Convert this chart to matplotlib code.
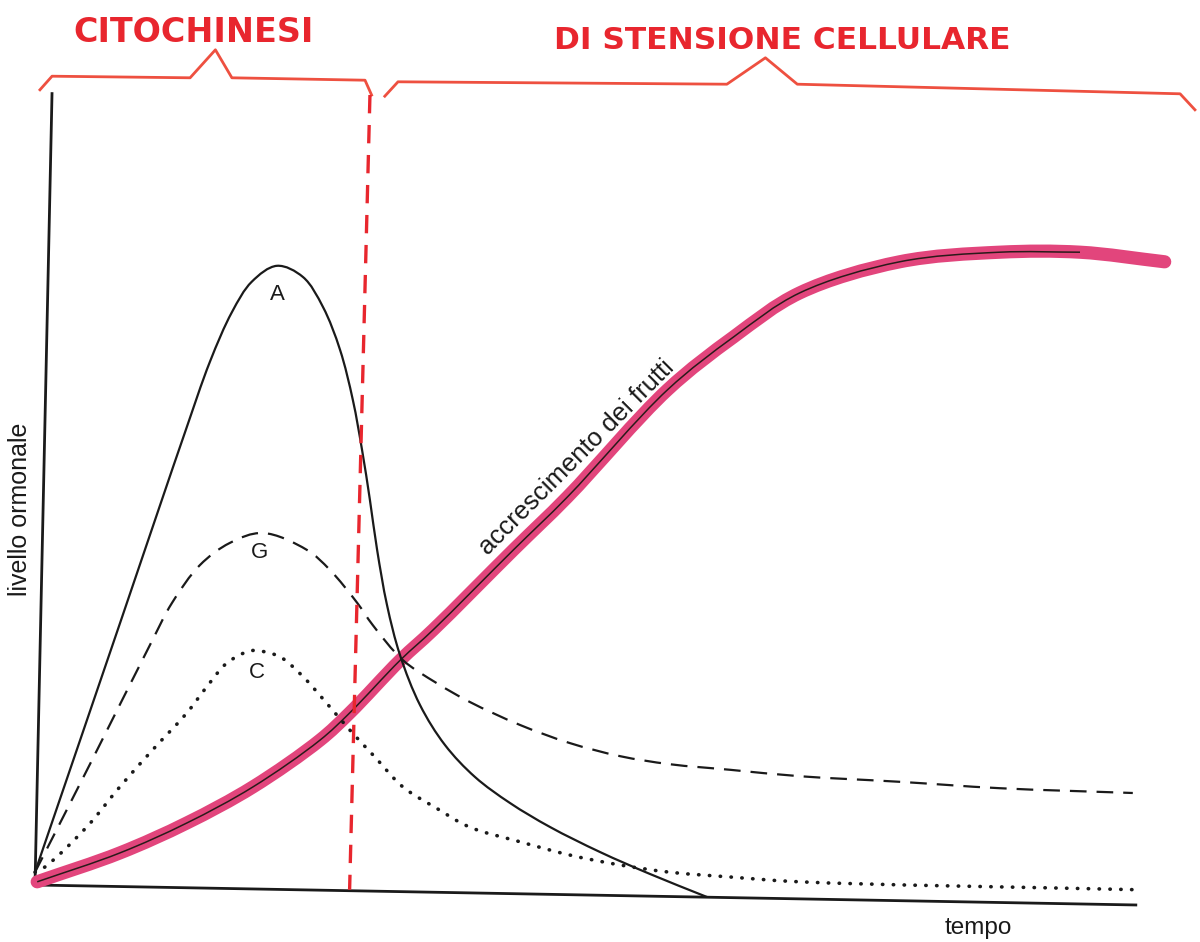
import matplotlib
matplotlib.use("Agg")
import matplotlib.pyplot as plt
import numpy as np
from matplotlib.path import Path
from matplotlib.patches import PathPatch

# ---- data (time 0..100, hormone level 0..100) ----
a_t = [0, 7.82, 11.4, 13.64, 15.9, 17.9, 19.7, 22.0, 24.36, 26.18, 27.73, 28.9, 29.73,
       30.45, 31.1, 32.0, 33.18, 35.0, 37.27, 40.0, 43.18, 46.82, 51.36, 55.91, 61.09]
a_lv = [1.6, 33.1, 47.6, 56.6, 65.4, 71.6, 75.4, 77.4, 76.0, 72.25, 66.9, 60.6, 54.4,
        48.1, 41.9, 35.0, 28.75, 22.5, 17.5, 13.5, 10.25, 7.25, 4.125, 1.375, -1.5]

g_t = [0, 5.18, 10.45, 12.45, 15.0, 17.7, 20.7, 24.7, 26.8, 29.3, 30.7, 33.45,
       36.5, 39.5, 44.1, 48.6, 53.2, 57.7, 63.2, 69.5, 78.6, 87.7, 99.8]
g_lv = [1.6, 15.6, 30.0, 35.25, 40.0, 42.75, 44.0, 41.9, 39.4, 35.25, 32.5, 28.1,
        25.25, 22.9, 20.0, 17.75, 16.1, 15.1, 14.4, 13.6, 12.9, 12.1, 11.5]

c_t = [0, 0.9, 4.7, 7.7, 10.7, 13.8, 15.6, 17.45, 19.5, 20.45, 22.3, 24.4, 26.5, 28.6,
       30.9, 33.45, 36.5, 39.5, 44.1, 48.6, 53.2, 57.7, 63.2, 69.5, 100.5]
c_lv = [1.6, 2.25, 7.25, 12.25, 16.9, 21.5, 24.75, 27.75, 29.25, 29.25, 28.5, 26.0, 22.75,
        19.4, 16.0, 12.25, 9.6, 7.25, 5.4, 3.75, 2.5, 1.6, 1.0, 0.4, -0.6]

fruit_t = [0.2, 7.7, 13.8, 19.8, 25.9, 28.6, 33.2, 36.2, 43.5, 48.4, 57.5, 63.5, 69.5,
           78.6, 87.7, 95.0, 102.7]
fruit_lv = [0.4, 4.0, 7.75, 12.25, 18.1, 21.5, 28.1, 31.9, 41.9, 48.5, 61.9, 68.5, 74.0,
            77.9, 79.1, 79.1, 77.9]

# phase boundary (hand-drawn dashed line)
bound_t = [30.45, 28.6]
bound_lv = [98.75, -0.6]

# brackets over the phases
brk1_t = [0.45, 1.55, 14.1, 16.4, 17.9, 30.0, 30.6]
brk1_lv = [99.4, 101.1, 100.9, 104.4, 100.9, 100.6, 98.75]
brk2_t = [31.8, 33.0, 62.9, 66.4, 69.3, 104.1, 105.45]
brk2_lv = [98.6, 100.4, 100.1, 103.4, 100.1, 98.9, 96.9]

# axes lines
yaxis_t = [0, 1.55]
yaxis_lv = [0, 99.1]
xaxis_t = [0, 100.2]
xaxis_lv = [0, -2.5]

phase_labels = ["CITOCHINESI", "DI STENSIONE CELLULARE"]
curve_labels = ["A", "G", "C"]

ASPECT = np.array([11.0, 8.0])   # screen pixels per data unit (x, y)


def smooth_curve(ax, xs, ys, alpha=0.5, **kw):
    """Draw a smooth (centripetal Catmull-Rom) curve through the given points."""
    p = np.column_stack([xs, ys]).astype(float) * ASPECT
    n = len(p)
    d = np.linalg.norm(np.diff(p, axis=0), axis=1) ** alpha
    t = np.concatenate([[0.0], np.cumsum(d)])
    m = np.zeros_like(p)
    for i in range(n):
        if i == 0:
            m[i] = (p[1] - p[0]) / (t[1] - t[0])
        elif i == n - 1:
            m[i] = (p[-1] - p[-2]) / (t[-1] - t[-2])
        else:
            m[i] = ((p[i] - p[i - 1]) / (t[i] - t[i - 1])
                    - (p[i + 1] - p[i - 1]) / (t[i + 1] - t[i - 1])
                    + (p[i + 1] - p[i]) / (t[i + 1] - t[i]))
    verts = [p[0]]
    codes = [Path.MOVETO]
    for i in range(n - 1):
        dt = t[i + 1] - t[i]
        verts += [p[i] + m[i] * dt / 3.0, p[i + 1] - m[i + 1] * dt / 3.0, p[i + 1]]
        codes += [Path.CURVE4] * 3
    verts = np.array(verts) / ASPECT
    patch = PathPatch(Path(verts, codes), fill=False, transform=ax.transData, **kw)
    ax.add_patch(patch)
    return patch


fig = plt.figure(figsize=(12, 9.42), dpi=100)
ax = fig.add_axes([0, 0, 1, 1])
ax.set_xlim(-35 / 11, 1165 / 11)
ax.set_ylim(-57 / 8, 885 / 8)
ax.axis("off")

sans = ["Liberation Sans", "DejaVu Sans"]

# axes
ax.plot(yaxis_t, yaxis_lv, color="#1a1a1a", lw=2.0, solid_capstyle="butt")
ax.plot(xaxis_t, xaxis_lv, color="#1a1a1a", lw=2.0, solid_capstyle="butt")

# fruit growth: thick pink band with thin black line
smooth_curve(ax, fruit_t, fruit_lv, edgecolor="#e2457c", lw=9.5, capstyle="round", zorder=2)
smooth_curve(ax, fruit_t[:-1], fruit_lv[:-1], edgecolor="#2a1a1a", lw=1.1, zorder=3)

# hormone curves
smooth_curve(ax, a_t, a_lv, edgecolor="#1a1a1a", lw=1.6, zorder=4)
smooth_curve(ax, g_t, g_lv, edgecolor="#1a1a1a", lw=1.6, linestyle=(0, (7.5, 4.5)), zorder=4)
smooth_curve(ax, c_t, c_lv, edgecolor="#1a1a1a", lw=2.6, linestyle=(0, (0.1, 2.9)),
             capstyle="round", zorder=4)

# phase boundary
ax.plot(bound_t, bound_lv, color="#e8262e", lw=2.4, dashes=(5.5, 3.5), zorder=5)

# brackets
ax.plot(brk1_t, brk1_lv, color="#ee5040", lw=2.0, solid_joinstyle="round")
ax.plot(brk2_t, brk2_lv, color="#ee5040", lw=2.0, solid_joinstyle="round")

# phase labels (hand lettering)
ax.text(14.45, 106.6, phase_labels[0], color="#e8262e", fontsize=24,
        fontweight="bold", family=["DejaVu Sans"], ha="center", va="center")
ax.text(67.9, 105.6, phase_labels[1], color="#e8262e", fontsize=22.5,
        fontweight="bold", family=["DejaVu Sans"], ha="center", va="center")

# curve labels
ax.text(22.0, 73.75, curve_labels[0], fontsize=16, family=sans, ha="center", va="center", color="#1a1a1a")
ax.text(20.45, 41.6, curve_labels[1], fontsize=16, family=sans, ha="center", va="center", color="#1a1a1a")
ax.text(20.2, 26.6, curve_labels[2], fontsize=16, family=sans, ha="center", va="center", color="#1a1a1a")

ax.text(49.2, 53.4, "accrescimento dei frutti", fontsize=18.5, family=sans,
        rotation=45, rotation_mode="anchor", ha="center", va="center", color="#1a1a1a")
ax.text(-1.36, 46.9, "livello ormonale", fontsize=18, family=sans, rotation=90,
        ha="center", va="center", color="#1a1a1a")
ax.text(85.8, -5.4, "tempo", fontsize=17.5, family=sans, ha="center", va="center", color="#1a1a1a")

fig.savefig("out.png", dpi=100, facecolor="white")
